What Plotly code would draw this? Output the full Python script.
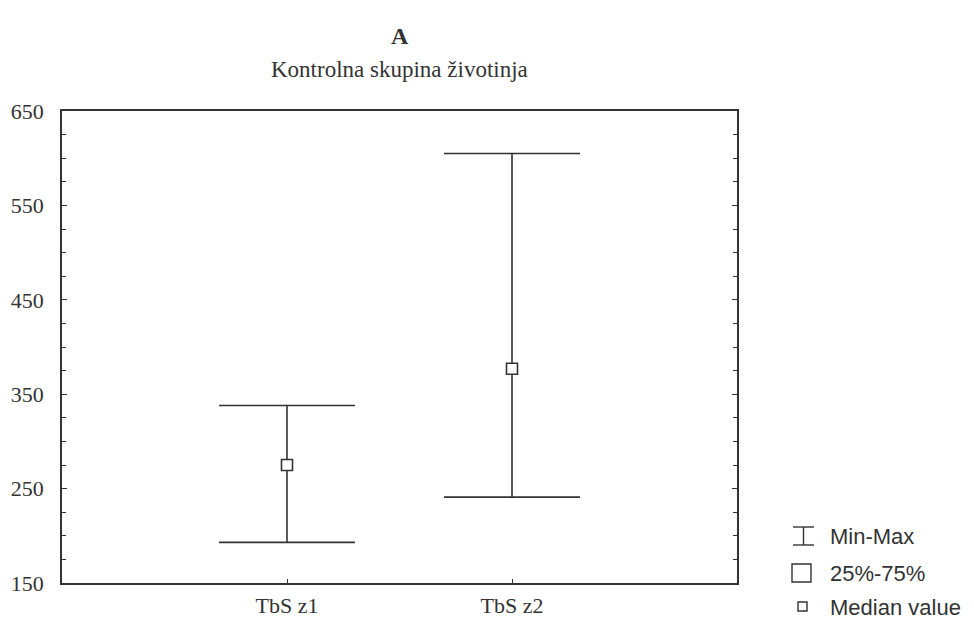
import plotly.graph_objects as go

# values
groups = ["TbS z1", "TbS z2"]
group_pos = [1, 2]
medians = [275, 377]
mins = [193, 241]
maxs = [338, 605]

y_ticks = [150, 250, 350, 450, 550, 650]
legend_labels = ["Min-Max", "25%-75%", "Median value"]

ink = "#333333"
serif = "Liberation Serif, Times New Roman, serif"
sans = "Liberation Sans, Arial, sans-serif"

err_plus = [mx - md for mx, md in zip(maxs, medians)]
err_minus = [md - mn for md, mn in zip(medians, mins)]

fig = go.Figure()
fig.add_trace(go.Scatter(
    x=group_pos, y=medians, mode="markers",
    marker=dict(symbol="square", size=11, color="white",
                line=dict(color=ink, width=1.6)),
    error_y=dict(type="data", symmetric=False, array=err_plus,
                 arrayminus=err_minus, width=68, thickness=1.6, color=ink),
    showlegend=False, hoverinfo="y",
))

# plot area in page pixels: x 62..737, y 111..583 (page body adds an 8px offset)
OFF = 8
L, R, T, B = 62, 737, 111, 583
W, H = R - L, B - T
FW, FH = 974 - OFF, 620 - OFF

def px_x(p):
    return (p - L) / W

def px_y(p):
    return (B - p) / H

lw = 1.4
shapes = [
    # legend glyph: I-beam
    dict(type="line", xref="paper", yref="paper", x0=px_x(793), x1=px_x(814),
         y0=px_y(527), y1=px_y(527), line=dict(color=ink, width=lw)),
    dict(type="line", xref="paper", yref="paper", x0=px_x(793), x1=px_x(814),
         y0=px_y(545), y1=px_y(545), line=dict(color=ink, width=lw)),
    dict(type="line", xref="paper", yref="paper", x0=px_x(803.5), x1=px_x(803.5),
         y0=px_y(527), y1=px_y(545), line=dict(color=ink, width=lw)),
    # large square
    dict(type="rect", xref="paper", yref="paper", x0=px_x(792), x1=px_x(811),
         y0=px_y(564), y1=px_y(582), line=dict(color=ink, width=lw)),
    # small square
    dict(type="rect", xref="paper", yref="paper", x0=px_x(798), x1=px_x(807),
         y0=px_y(602), y1=px_y(611), line=dict(color=ink, width=lw)),
]

annotations = [
    dict(text="<b>A</b>", xref="paper", yref="paper", x=0.5, y=px_y(36),
         yanchor="middle", showarrow=False, font=dict(family=serif, size=24, color="#333")),
    dict(text="Kontrolna skupina životinja", xref="paper", yref="paper", x=0.5,
         y=px_y(70), yanchor="middle", showarrow=False,
         font=dict(family=serif, size=23, color="#333")),
]
for lab, py in zip(legend_labels, [536, 573, 607]):
    annotations.append(dict(text=lab, xref="paper", yref="paper", x=px_x(828),
                            y=px_y(py), xanchor="left", yanchor="middle", showarrow=False,
                            font=dict(family=sans, size=22, color="#333")))

fig.update_layout(
    width=FW, height=FH,
    margin=dict(l=L - OFF, r=FW - (R - OFF), t=T - OFF, b=FH - (B - OFF)),
    paper_bgcolor="white", plot_bgcolor="white",
    shapes=shapes, annotations=annotations,
    xaxis=dict(range=[0, 3], tickvals=group_pos, ticktext=groups,
               ticks="inside", ticklen=4, tickcolor=ink, automargin=False,
               showline=True, linecolor=ink, linewidth=1.6, mirror=True,
               showgrid=False, zeroline=False, ticklabelstandoff=2,
               tickfont=dict(family=serif, size=22, color="#333")),
    yaxis=dict(range=[150, 650], tickvals=y_ticks, automargin=False,
               ticks="inside", ticklen=5, tickcolor=ink,
               minor=dict(dtick=25, ticks="inside", ticklen=4, tickcolor=ink, showgrid=False),
               showline=True, linecolor=ink, linewidth=1.6, mirror="ticks",
               showgrid=False, zeroline=False, ticklabelstandoff=12,
               tickfont=dict(family=serif, size=22, color="#333")),
)

fig.write_html("out.html")
